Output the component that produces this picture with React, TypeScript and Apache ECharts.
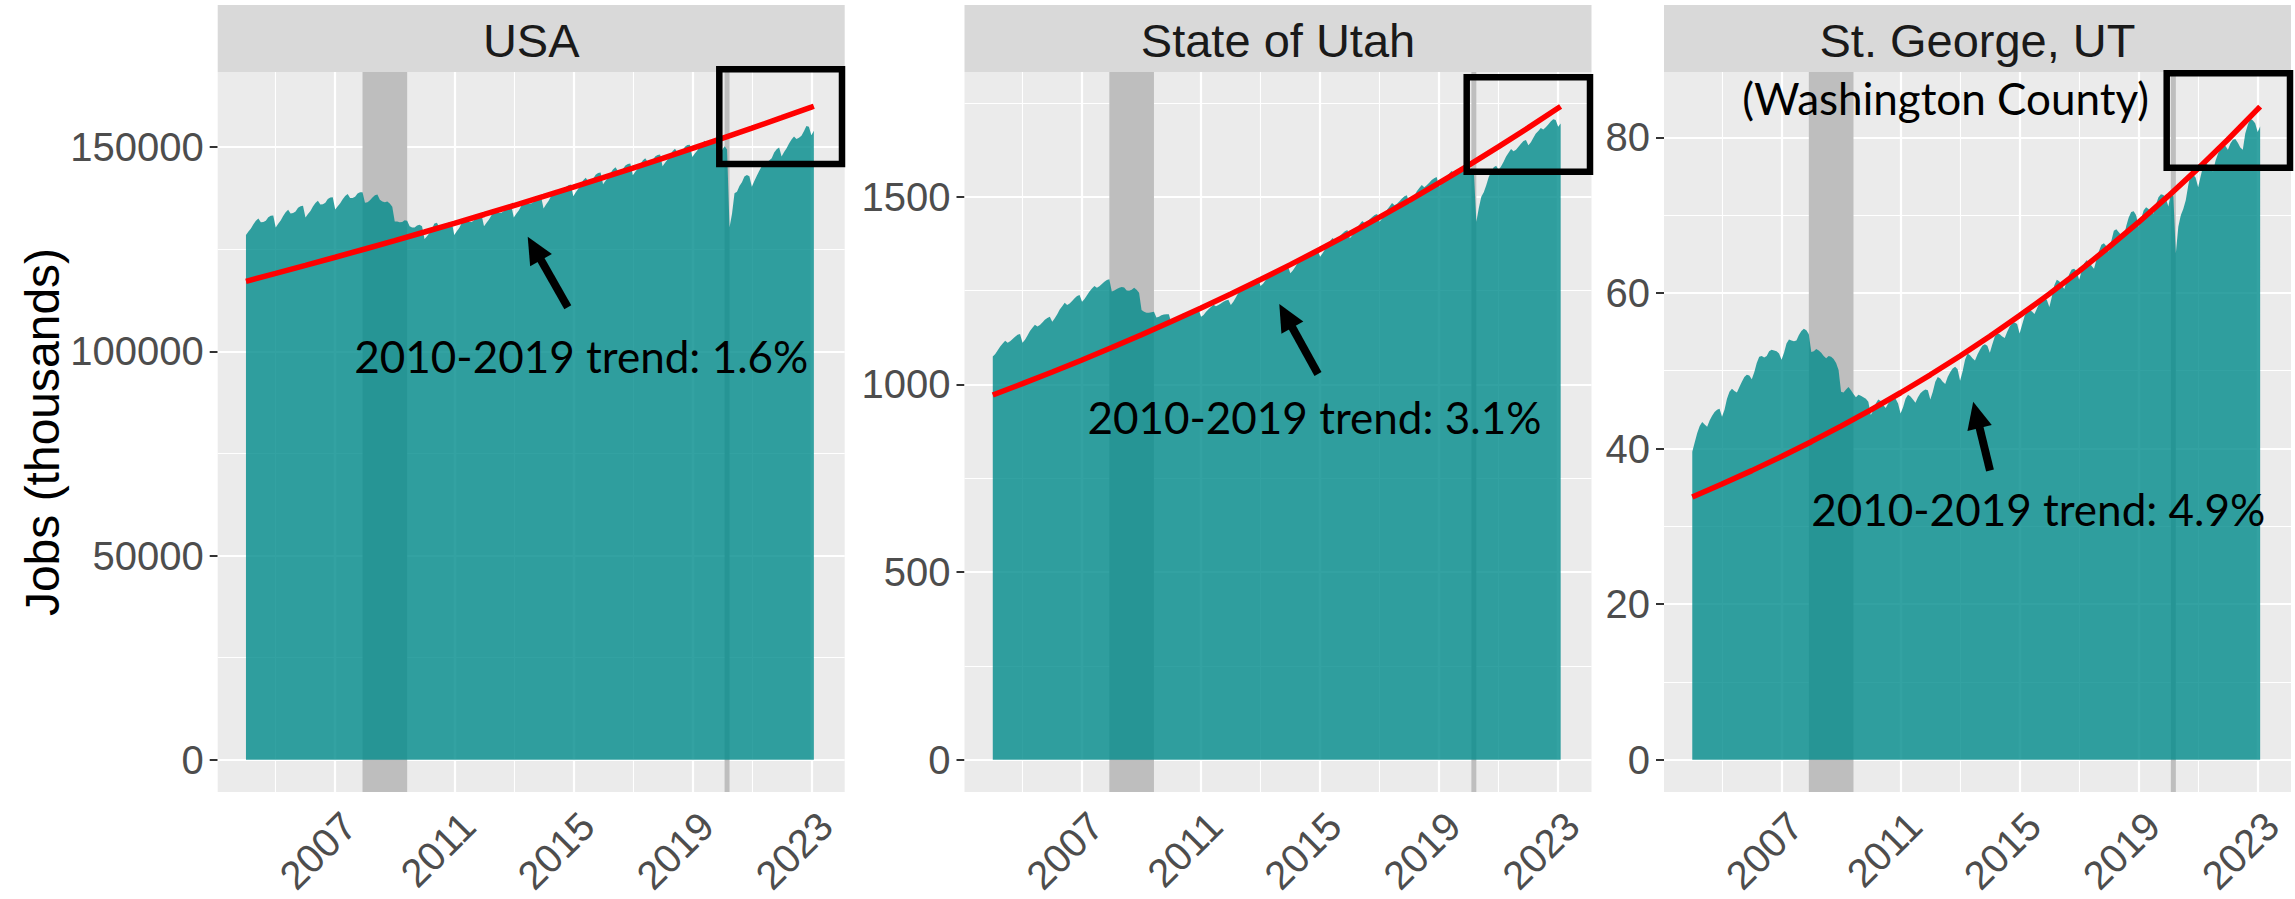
import React, { useEffect, useRef } from 'react';
import * as echarts from 'echarts';

// ---------- data (thousands of jobs, monthly, not seasonally adjusted) ----------
const START_YEAR = 2004; // first month: January 2004

const usaJobs = [
  128500, 129350, 130100, 131150, 132000, 132550, 131600, 131650, 132000, 132850, 133200, 133250,
  130350, 131250, 132050, 133150, 134050, 134650, 133750, 133850, 134250, 135150, 135550, 135650,
  132750, 133620, 134390, 135460, 136330, 136900, 135970, 136040, 136410, 137280, 137650, 137720,
  134750, 135550, 136250, 137250, 138050, 138550, 137550, 137550, 137850, 138650, 138950, 138950,
  136400, 136500, 137000, 137700, 138200, 138400, 137100, 136700, 136500, 136700, 136200, 135400,
  131800, 131800, 131600, 131700, 132100, 132000, 130600, 130300, 130300, 130800, 131000, 130600,
  127500, 128200, 129000, 130100, 131300, 131500, 130300, 130200, 130400, 131300, 131600, 131600,
  128500, 129400, 130200, 131400, 132200, 132700, 131700, 131700, 132100, 133000, 133300, 133400,
  130600, 131480, 132260, 133340, 134220, 134800, 133880, 133960, 134340, 135220, 135600, 135680,
  132800, 133690, 134470, 135560, 136440, 137030, 136110, 136200, 136580, 137470, 137850, 137940,
  135000, 135950, 136800, 137950, 138900, 139550, 138700, 138850, 139300, 140250, 140700, 140850,
  138000, 138950, 139790, 140940, 141880, 142530, 141670, 141820, 142260, 143210, 143650, 143800,
  140900, 141780, 142560, 143640, 144520, 145100, 144180, 144260, 144640, 145520, 145900, 145980,
  143100, 143980, 144760, 145840, 146720, 147300, 146380, 146460, 146840, 147720, 148100, 148180,
  145300, 146200, 147000, 148100, 149000, 149600, 148700, 148800, 149200, 150100, 150500, 150600,
  147600, 148430, 149160, 150190, 151020, 151550, 150580, 150610, 150940, 151770, 152100, 152130,
  149300, 150200, 149400, 130400, 133700, 138700, 139100, 140500, 141400, 142800, 143200, 142900,
  140300, 141700, 143000, 144200, 145300, 146300, 146300, 146700, 147300, 148700, 149500, 149900,
  147700, 148800, 149700, 150900, 151900, 152600, 152000, 152300, 152800, 153900, 155200, 155000,
  152900, 154000,
];

const utahJobs = [
  1074, 1081, 1091, 1101, 1109, 1116, 1111, 1115, 1121, 1127, 1132, 1134,
  1111, 1119, 1130, 1142, 1151, 1159, 1154, 1158, 1165, 1172, 1177, 1180,
  1167, 1176, 1187, 1199, 1208, 1217, 1211, 1215, 1222, 1229, 1235, 1238,
  1220, 1227, 1237, 1247, 1255, 1262, 1257, 1261, 1267, 1273, 1278, 1280,
  1247, 1250, 1254, 1257, 1259, 1258, 1250, 1249, 1252, 1257, 1252, 1244,
  1198, 1193, 1191, 1191, 1192, 1193, 1178, 1180, 1184, 1186, 1187, 1187,
  1165, 1169, 1175, 1181, 1185, 1190, 1187, 1189, 1192, 1196, 1199, 1200,
  1180, 1185, 1193, 1200, 1206, 1212, 1208, 1211, 1215, 1220, 1223, 1225,
  1211, 1220, 1231, 1243, 1253, 1261, 1256, 1260, 1267, 1274, 1280, 1283,
  1262, 1268, 1277, 1286, 1293, 1299, 1295, 1298, 1303, 1309, 1313, 1315,
  1296, 1303, 1313, 1324, 1332, 1339, 1334, 1338, 1344, 1351, 1356, 1358,
  1340, 1349, 1360, 1372, 1381, 1390, 1384, 1388, 1395, 1402, 1408, 1411,
  1389, 1397, 1407, 1418, 1427, 1435, 1429, 1433, 1440, 1446, 1451, 1454,
  1433, 1442, 1453, 1465, 1474, 1483, 1477, 1481, 1488, 1495, 1501, 1504,
  1482, 1490, 1502, 1514, 1523, 1531, 1525, 1530, 1537, 1544, 1549, 1552,
  1527, 1534, 1543, 1553, 1561, 1568, 1563, 1566, 1572, 1578, 1583, 1585,
  1566, 1575, 1568, 1433, 1470, 1500, 1512, 1530, 1552, 1566, 1578, 1582,
  1571, 1581, 1593, 1607, 1617, 1627, 1621, 1625, 1633, 1641, 1648, 1651,
  1637, 1645, 1657, 1668, 1675, 1683, 1679, 1685, 1692, 1700, 1706, 1704,
  1686, 1695,
];

const stgJobs = [
  39.6, 40.8, 42.0, 42.9, 43.4, 43.1, 42.8, 43.6, 44.2, 44.7, 45.0, 45.1,
  44.1, 45.0, 46.4, 47.3, 47.7, 47.4, 47.2, 47.9, 48.6, 49.2, 49.5, 49.4,
  48.9, 49.8, 51.0, 51.8, 51.9, 51.7, 51.9, 52.5, 52.7, 52.6, 52.5, 52.2,
  51.4, 52.3, 53.5, 54.0, 53.9, 53.8, 53.9, 54.6, 55.1, 55.4, 55.2, 54.7,
  52.4, 52.5, 52.8, 52.6, 52.3, 51.9, 51.6, 51.9, 51.8, 51.5, 51.0, 50.1,
  47.3, 47.2, 47.6, 47.9, 47.5, 47.0, 46.6, 46.9, 46.8, 46.6, 46.4, 46.0,
  44.3, 44.9, 45.8, 46.3, 46.1, 45.6, 45.2, 45.8, 46.2, 46.5, 46.4, 45.8,
  44.5, 45.3, 46.4, 46.9, 46.7, 46.3, 45.9, 46.6, 47.1, 47.4, 47.6, 47.5,
  46.3, 47.3, 48.6, 49.2, 49.0, 48.6, 48.3, 49.2, 49.8, 50.3, 50.5, 50.2,
  48.7, 49.9, 51.4, 52.2, 52.0, 51.6, 51.3, 52.1, 52.7, 53.2, 53.4, 53.2,
  52.3, 53.4, 54.4, 54.8, 54.7, 54.4, 54.2, 55.0, 55.7, 56.1, 56.2, 56.0,
  54.8, 55.9, 57.0, 57.6, 57.8, 57.6, 57.3, 58.0, 58.7, 59.2, 59.4, 59.1,
  58.2, 59.5, 61.0, 61.7, 61.5, 61.0, 60.5, 61.5, 62.4, 63.0, 63.1, 62.8,
  61.7, 62.8, 63.8, 64.2, 64.0, 63.5, 63.1, 64.3, 65.4, 66.2, 66.4, 66.0,
  65.3, 66.7, 68.0, 68.2, 67.8, 67.4, 67.2, 68.6, 69.7, 70.4, 70.5, 70.0,
  68.5, 69.5, 70.6, 71.0, 70.8, 70.4, 70.2, 71.4, 72.3, 72.7, 72.6, 72.1,
  71.1, 72.8, 72.4, 65.1, 68.5, 70.0, 70.8, 71.9, 73.8, 75.4, 75.2, 74.8,
  73.6, 75.0, 76.3, 76.7, 76.4, 76.0, 75.6, 77.0, 77.9, 78.6, 79.0, 78.9,
  78.4, 79.2, 79.7, 79.8, 79.3, 78.7, 78.4, 80.5, 81.6, 82.4, 82.2, 81.8,
  80.7, 81.4,
];

// 2010-2019 exponential trend, extended over the whole period
const trendYears = [2004, 2005, 2006, 2007, 2008, 2009, 2010, 2011, 2012, 2013, 2014, 2015, 2016, 2017, 2018, 2019, 2020, 2021, 2022, 2023, 2023.083];
const usaTrend = [117150, 119080, 121040, 123040, 125060, 127120, 129220, 131350, 133510, 135710, 137950, 140220, 142530, 144880, 147260, 149690, 152160, 154660, 157210, 159800, 160020];
const utahTrend = [971.7, 1001.8, 1032.9, 1064.9, 1097.9, 1132.0, 1167.1, 1203.3, 1240.7, 1279.1, 1318.8, 1359.7, 1401.8, 1445.3, 1490.1, 1536.4, 1584.0, 1633.1, 1683.8, 1735.9, 1740.3];
const stgTrend = [33.78, 35.43, 37.16, 38.98, 40.88, 42.88, 44.98, 47.17, 49.48, 51.9, 54.43, 57.09, 59.88, 62.81, 65.88, 69.09, 72.47, 76.01, 79.73, 83.62, 83.96];

// recessions (Dec 2007 - Jun 2009, Feb 2020 - Apr 2020)
const recessions = [
  [2007.917, 2009.417],
  [2020.083, 2020.25],
];

const xTicks = [2007, 2011, 2015, 2019, 2023];
const xMinor = [2005, 2009, 2013, 2017, 2021];

const usaYTicks = [0, 50000, 100000, 150000];
const usaYMinor = [25000, 75000, 125000];
const utahYTicks = [0, 500, 1000, 1500];
const utahYMinor = [250, 750, 1250, 1750];
const stgYTicks = [0, 20, 40, 60, 80];
const stgYMinor = [10, 30, 50, 70];

const panelTitles = ['USA', 'State of Utah', 'St. George, UT'];
const trendLabels = ['2010-2019 trend: 1.6%', '2010-2019 trend: 3.1%', '2010-2019 trend: 4.9%'];
const subTitle = '(Washington County)';
const yTitle = 'Jobs (thousands)';

// ---------- layout ----------
const PANEL_LEFT = [217.7, 964.5, 1664.0];
const PANEL_W = 627;
const PANEL_TOP = 72;
const PANEL_H = 720;
const X_MIN = 2003.05;
const X_MAX = 2024.12;
const Y_RANGES = [
  [-7900, 168400],
  [-86, 1832],
  [-4.15, 88.4],
];

const TICK_FONT = 'Liberation Sans';
const NOTE_FONT = 'Lato';

function monthly(values: number[]) {
  return values.map((v, i) => [START_YEAR + i / 12, v]);
}

function arrow(tip: number[], tail: number[]) {
  const dx = tip[0] - tail[0];
  const dy = tip[1] - tail[1];
  const L = Math.hypot(dx, dy);
  const ux = dx / L;
  const uy = dy / L;
  const headLen = 27;
  const headHalf = 12.5;
  const bx = tip[0] - ux * headLen;
  const by = tip[1] - uy * headLen;
  const nx = -uy;
  const ny = ux;
  return [
    {
      type: 'line',
      z: 20,
      shape: { x1: tail[0], y1: tail[1], x2: bx + ux * 3, y2: by + uy * 3 },
      style: { stroke: '#000', lineWidth: 8 },
    },
    {
      type: 'polygon',
      z: 20,
      shape: {
        points: [
          [tip[0], tip[1]],
          [bx + nx * headHalf, by + ny * headHalf],
          [bx - nx * headHalf, by - ny * headHalf],
        ],
      },
      style: { fill: '#000' },
    },
  ];
}

export default function App() {
  const ref = useRef<HTMLDivElement>(null);

  useEffect(() => {
    if (!ref.current) return;
    const chart = echarts.init(ref.current, undefined, { renderer: 'svg' });

    const jobs = [usaJobs, utahJobs, stgJobs];
    const trends = [usaTrend, utahTrend, stgTrend];
    const yTicks = [usaYTicks, utahYTicks, stgYTicks];
    const yMinor = [usaYMinor, utahYMinor, stgYMinor];

    const grids = PANEL_LEFT.map((left) => ({
      left,
      top: PANEL_TOP,
      width: PANEL_W,
      height: PANEL_H,
      show: true,
      backgroundColor: '#EBEBEB',
      borderWidth: 0,
      containLabel: false,
      outerBoundsMode: 'none',
    }));

    const xAxes = PANEL_LEFT.map((_, i) => ({
      type: 'value',
      gridIndex: i,
      min: X_MIN,
      max: X_MAX,
      axisLine: { show: false },
      splitLine: { show: false },
      axisTick: {
        show: true,
        customValues: xTicks,
        length: 8,
        lineStyle: { color: '#333333', width: 2 },
      },
      axisLabel: {
        show: true,
        customValues: xTicks,
        rotate: 45,
        margin: 13,
        fontSize: 40,
        color: '#4D4D4D',
        fontFamily: TICK_FONT,
        verticalAlign: 'top',
        align: 'right',
        formatter: (v: number) => String(Math.round(v)),
      },
    }));

    const yAxes = PANEL_LEFT.map((_, i) => ({
      type: 'value',
      gridIndex: i,
      min: Y_RANGES[i][0],
      max: Y_RANGES[i][1],
      axisLine: { show: false },
      splitLine: { show: false },
      axisTick: {
        show: true,
        customValues: yTicks[i],
        length: 8,
        lineStyle: { color: '#333333', width: 2 },
      },
      axisLabel: {
        show: true,
        customValues: yTicks[i],
        margin: 14,
        fontSize: 40,
        color: '#4D4D4D',
        fontFamily: TICK_FONT,
        formatter: (v: number) => String(v),
      },
      ...(i === 0
        ? {
            name: yTitle,
            nameLocation: 'middle',
            nameGap: 150,
            nameRotate: 90,
            nameTextStyle: { fontSize: 48, color: '#000000', fontFamily: TICK_FONT },
          }
        : {}),
    }));

    const series: any[] = [];
    PANEL_LEFT.forEach((_, i) => {
      const lines = [
        ...xTicks.map((v) => ({ xAxis: v, lineStyle: { color: '#FFFFFF', width: 2.2, type: 'solid' } })),
        ...xMinor.map((v) => ({ xAxis: v, lineStyle: { color: '#FFFFFF', width: 1.1, type: 'solid' } })),
        ...yTicks[i].map((v) => ({ yAxis: v, lineStyle: { color: '#FFFFFF', width: 2.2, type: 'solid' } })),
        ...yMinor[i].map((v) => ({ yAxis: v, lineStyle: { color: '#FFFFFF', width: 1.1, type: 'solid' } })),
      ];
      series.push({
        type: 'line',
        xAxisIndex: i,
        yAxisIndex: i,
        data: [[2004, 0]],
        symbol: 'none',
        lineStyle: { opacity: 0, width: 0 },
        silent: true,
        z: 1,
        markLine: {
          z: 1,
          silent: true,
          symbol: ['none', 'none'],
          label: { show: false },
          emphasis: { disabled: true },
          data: lines,
        },
      });
      series.push({
        type: 'line',
        xAxisIndex: i,
        yAxisIndex: i,
        data: [[2004, 0]],
        symbol: 'none',
        lineStyle: { opacity: 0, width: 0 },
        silent: true,
        z: 2,
        markArea: {
          z: 2,
          silent: true,
          itemStyle: { color: '#BEBEBE' },
          emphasis: { disabled: true },
          data: recessions.map(([a, b]) => [{ xAxis: a }, { xAxis: b }]),
        },
      });
      series.push({
        type: 'line',
        xAxisIndex: i,
        yAxisIndex: i,
        data: monthly(jobs[i]),
        symbol: 'none',
        showSymbol: false,
        silent: true,
        lineStyle: { width: 0, opacity: 0 },
        areaStyle: { color: '#008B8B', opacity: 0.8 },
        z: 3,
      });
      series.push({
        type: 'line',
        xAxisIndex: i,
        yAxisIndex: i,
        data: trendYears.map((y, k) => [y, trends[i][k]]),
        symbol: 'none',
        showSymbol: false,
        silent: true,
        lineStyle: { color: '#FF0000', width: 5.5 },
        z: 4,
      });
    });

    const graphic: any[] = [];
    PANEL_LEFT.forEach((left, i) => {
      graphic.push({
        type: 'rect',
        z: 5,
        shape: { x: left, y: 5, width: PANEL_W, height: PANEL_TOP - 5 },
        style: { fill: '#D9D9D9' },
      });
      graphic.push({
        type: 'text',
        z: 6,
        x: left + PANEL_W / 2,
        y: 40,
        style: {
          text: panelTitles[i],
          fontSize: 47,
          fontFamily: TICK_FONT,
          fill: '#1A1A1A',
          align: 'center',
          verticalAlign: 'middle',
        },
      });
    });

    const notePos = [
      [581.3, 355.5],
      [1314.4, 416.5],
      [2038.2, 509],
    ];
    notePos.forEach((p, i) => {
      graphic.push({
        type: 'text',
        z: 20,
        x: p[0],
        y: p[1],
        style: {
          text: trendLabels[i],
          fontSize: 44,
          fontFamily: NOTE_FONT,
          fill: '#000000',
          align: 'center',
          verticalAlign: 'middle',
        },
      });
    });
    graphic.push({
      type: 'text',
      z: 20,
      x: 1945.7,
      y: 97.5,
      style: {
        text: subTitle,
        fontSize: 44,
        fontFamily: NOTE_FONT,
        fill: '#000000',
        align: 'center',
        verticalAlign: 'middle',
      },
    });

    graphic.push(...arrow([527.7, 236.7], [567.8, 307.3]));
    graphic.push(...arrow([1279.3, 304], [1318, 374]));
    graphic.push(...arrow([1973.2, 401.7], [1990, 470.5]));

    const boxes = [
      [719.3, 69.3, 122.7, 94.7],
      [1466.7, 77.3, 123.3, 94.4],
      [2166.7, 73.3, 123.3, 94.4],
    ];
    boxes.forEach((b) => {
      graphic.push({
        type: 'rect',
        z: 20,
        shape: { x: b[0], y: b[1], width: b[2], height: b[3] },
        style: { fill: 'none', stroke: '#000000', lineWidth: 6.5 },
      });
    });

    chart.setOption({
      animation: false,
      backgroundColor: '#FFFFFF',
      grid: grids,
      xAxis: xAxes,
      yAxis: yAxes,
      series,
      graphic,
    });

    return () => {
      chart.dispose();
    };
  }, []);

  return (
    <div
      ref={ref}
      style={{ position: 'fixed', left: 0, top: 0, width: 2295, height: 899 }}
    />
  );
}
